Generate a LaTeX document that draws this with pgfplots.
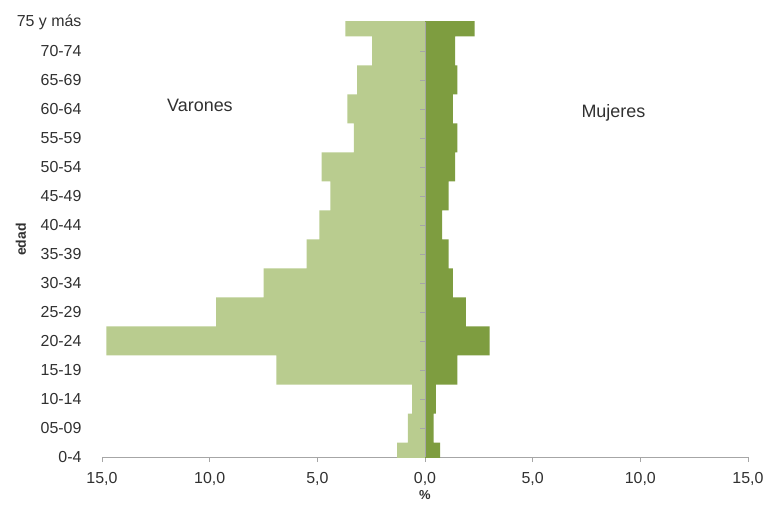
\documentclass[border=0pt]{standalone}
\usepackage{pgfplots}
\pgfplotsset{compat=1.18}
\usepackage{fontspec}
\setmainfont{Liberation Sans}
\definecolor{varon}{HTML}{B9CC8F}
\definecolor{mujer}{HTML}{7E9D40}
\definecolor{axgray}{HTML}{A6A6A6}
\definecolor{txt}{HTML}{303030}
\begin{document}
\begin{tikzpicture}
\useasboundingbox (-102bp,-48bp) rectangle (661bp,457bp);
\begin{axis}[
  scale only axis, width=646bp, height=435bp,
  anchor=south west, at={(0,0)},
  xbar, bar width=29bp,
  xmin=-15, xmax=15, ymin=0, ymax=15,
  axis x line*=bottom, axis y line*=left,
  axis line style={axgray, line width=0.8pt},
  y axis line style={draw=none},
  xtick={-15,-10,-5,0,5,10,15},
  xticklabels={{15,0},{10,0},{5,0},{0,0},{5,0},{10,0},{15,0}},
  xtick style={axgray, line width=0.8pt},
  tick align=outside, major tick length=5bp,
  ytick={0,...,15},
  yticklabels={0-4,05-09,10-14,15-19,20-24,25-29,30-34,35-39,40-44,45-49,50-54,55-59,60-64,65-69,70-74,75 y más},
  ytick style={draw=none},
  yticklabel style={xshift=-12bp},
  xticklabel style={yshift=-7bp},
  tick label style={font=\fontsize{16}{18}\selectfont, text=txt},
  xlabel={\%},
  xlabel style={at={(axis description cs:0.5,0)}, anchor=center, yshift=-38.5bp, inner sep=0pt, font=\bfseries\fontsize{13}{15}\selectfont, text=txt},
  ylabel={edad},
  ylabel style={at={(axis description cs:0,0.5)}, anchor=center, yshift=81bp, font=\bfseries\fontsize{14}{16}\selectfont, text=txt},
  clip=true,
]
\addplot[fill=varon, draw=none, bar shift=0pt] coordinates {
(-1.3,0) (-0.8,1) (-0.6,2) (-6.9,3) (-14.8,4) (-9.7,5) (-7.5,6) (-5.5,7)
(-4.9,8) (-4.4,9) (-4.8,10) (-3.3,11) (-3.6,12) (-3.15,13) (-2.45,14) (-3.7,15)};
\addplot[fill=mujer, draw=none, bar shift=0pt] coordinates {
(0.7,0) (0.4,1) (0.5,2) (1.5,3) (3.0,4) (1.9,5) (1.3,6) (1.1,7)
(0.8,8) (1.1,9) (1.4,10) (1.5,11) (1.3,12) (1.5,13) (1.4,14) (2.3,15)};
\draw[axgray, line width=0.6pt] (axis cs:0,0) -- (axis cs:0,15);
\pgfplotsinvokeforeach{1,...,14}{\draw[axgray, line width=0.6pt] (axis cs:0,#1) -- ([xshift=-5bp]axis cs:0,#1);}
\node[font=\fontsize{18}{20}\selectfont, text=txt] at (axis cs:-10.45,12.14) {Varones};
\node[font=\fontsize{18}{20}\selectfont, text=txt] at (axis cs:8.75,11.86) {Mujeres};
\end{axis}
\end{tikzpicture}
\end{document}
